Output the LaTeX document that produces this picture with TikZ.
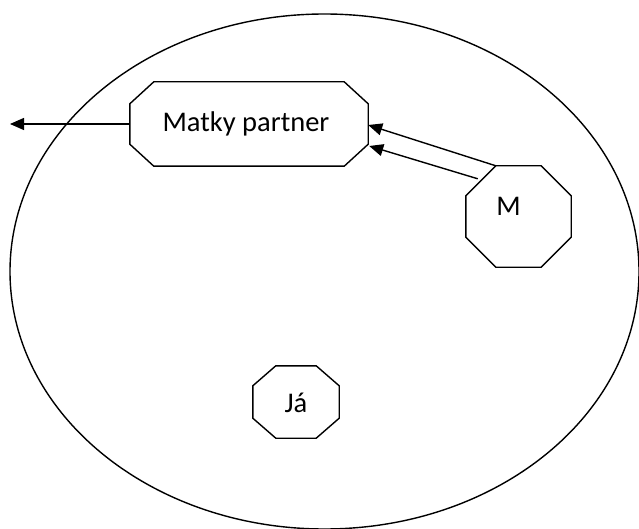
\documentclass[tikz,border=0pt]{standalone}
\usepackage{fontspec}
\setmainfont{Carlito}
\usetikzlibrary{arrows.meta,calc}

\tikzset{
  line/.style={line width=1.4pt, black},
  arr/.style={line, -{Triangle[length=14pt,width=12pt]}},
  box/.style={draw=none, inner sep=0pt, font=\fontsize{28.5}{34}\selectfont},
}

% chamfered outline around a fixed-size box node
\newcommand{\octo}[3]{%
  \filldraw[line, fill=white]
    ($(#1.north west)+(#2,0)$) -- ($(#1.north east)+(-#2,0)$)
    -- ($(#1.north east)+(0,-#3)$) -- ($(#1.south east)+(0,#3)$)
    -- ($(#1.south east)+(-#2,0)$) -- ($(#1.south west)+(#2,0)$)
    -- ($(#1.south west)+(0,#3)$) -- ($(#1.north west)+(0,-#3)$) -- cycle;}

\begin{document}
\begin{tikzpicture}[x=1pt,y=-1pt]
  \useasboundingbox (0,0) rectangle (639,529);

  % surrounding ellipse
  \draw[line] (324.5,271.5) ellipse [x radius=314.5, y radius=257.5];

  % box frames
  \node[box, minimum width=238pt, minimum height=84pt] (mp) at (249,124) {};
  \node[box, minimum width=105pt, minimum height=101pt] (m) at (518.5,216.5) {};
  \node[box, minimum width=86pt, minimum height=72pt] (ja) at (296,402) {};
  \octo{mp}{24pt}{22pt}
  \octo{m}{30pt}{30pt}
  \octo{ja}{23pt}{20pt}

  % labels
  \node[box] at ($(mp.center)+(-3,0)$) {Matky partner};
  \node[box] at ($(m.center)+(-10,-10)$) {M};
  \node[box] at ($(ja.center)+(0,1)$) {Já};

  % connectors
  \coordinate (out) at (10,124);
  \draw[arr] (mp.west) -- (out);
  \draw[arr] ($(m.north west)+(30,0)$) -- ($(mp.east)+(0,1)$);
  \draw[arr] ($(m.north west)+(12,13)$) -- ($(mp.east)+(1,22)$);
\end{tikzpicture}
\end{document}
